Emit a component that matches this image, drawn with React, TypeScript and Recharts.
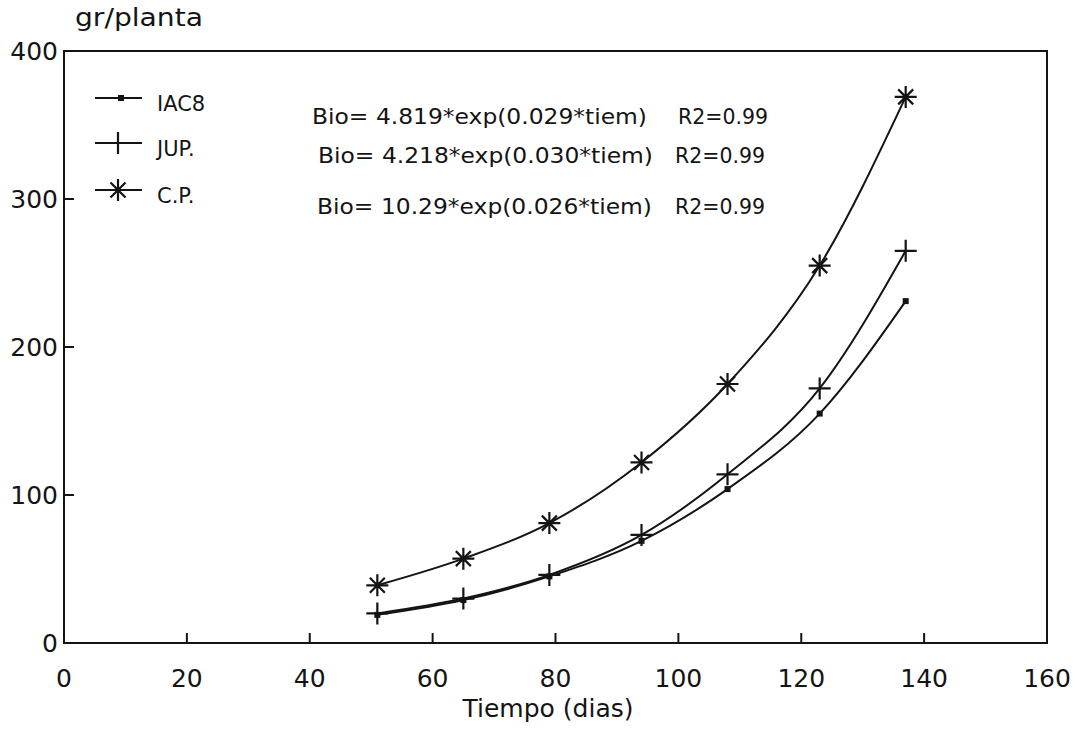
import { LineChart, Line, XAxis, YAxis, ReferenceArea, Legend } from 'recharts';

// days after sowing and biomass (g/plant)
const days = [51, 65, 79, 94, 108, 123, 137];
const iac8 = [19, 29, 45, 69, 104, 155, 231];
const jup = [20, 30, 46, 73, 114, 172, 265];
const cp = [39, 57, 81, 122, 175, 255, 369];

const xTicks = [0, 20, 40, 60, 80, 100, 120, 140, 160];
const yTicks = [0, 100, 200, 300, 400];

const seriesKeys = ['iac8', 'jup', 'cp'];
const seriesNames = ['IAC8', 'JUP.', 'C.P.'];
const equations = [
  'Bio= 4.819*exp(0.029*tiem)',
  'Bio= 4.218*exp(0.030*tiem)',
  'Bio= 10.29*exp(0.026*tiem)',
];
const r2Labels = ['R2=0.99', 'R2=0.99', 'R2=0.99'];

const INK = '#141414';
const FONT = '"DejaVu Sans", sans-serif';

const data = days.map((d, i) => ({ day: d, iac8: iac8[i], jup: jup[i], cp: cp[i] }));

function Square({ cx, cy }: { cx: number; cy: number }) {
  return <rect x={cx - 3} y={cy - 3} width={6} height={6} fill={INK} />;
}

function Plus({ cx, cy }: { cx: number; cy: number }) {
  return (
    <path
      d={`M${cx - 11},${cy}H${cx + 11}M${cx},${cy - 11}V${cy + 11}`}
      stroke={INK}
      strokeWidth={2.2}
      fill="none"
    />
  );
}

function Star({ cx, cy }: { cx: number; cy: number }) {
  const r = 11;
  const d = 7.5;
  return (
    <path
      d={`M${cx - r},${cy}H${cx + r}M${cx},${cy - r}V${cy + r}M${cx - d},${cy - d}L${cx + d},${cy + d}M${cx - d},${cy + d}L${cx + d},${cy - d}`}
      stroke={INK}
      strokeWidth={2.2}
      fill="none"
    />
  );
}

const markers: Record<string, (p: { cx: number; cy: number }) => JSX.Element> = {
  iac8: Square,
  jup: Plus,
  cp: Star,
};

const XTick = ({ x, y, payload }: any) => (
  <g>
    <line x1={x} y1={y} x2={x} y2={y - 10} stroke={INK} strokeWidth={2} />
    <text x={x} y={y + 44} textAnchor="middle" fontFamily={FONT} fontSize={25} fill={INK}>
      {payload.value}
    </text>
  </g>
);

const YTick = ({ x, y, payload }: any) => (
  <g>
    <line x1={x} y1={y} x2={x + 10} y2={y} stroke={INK} strokeWidth={2} />
    <text x={x - 6} y={y + 9} textAnchor="end" fontFamily={FONT} fontSize={25} fill={INK}>
      {payload.value}
    </text>
  </g>
);

const legendRows = [98, 143, 190];
const eqRows = [124, 163, 214];
const eqX = [312, 318, 317];
const r2X = [678, 675, 675];

function LegendBox() {
  return (
    <svg width={800} height={240} style={{ display: 'block' }}>
      {seriesKeys.map((k, i) => {
        const M = markers[k];
        const y = legendRows[i];
        return (
          <g key={k}>
            <line x1={95} y1={y} x2={142} y2={y} stroke={INK} strokeWidth={2} />
            <M cx={k === 'iac8' ? 121 : 118} cy={y} />
            <text x={157} y={y + 13} fontFamily={FONT} fontSize={21} fill={INK}>
              {seriesNames[i]}
            </text>
          </g>
        );
      })}
      {equations.map((eq, i) => (
        <g key={eq}>
          <text
            x={eqX[i]}
            y={eqRows[i]}
            fontFamily={FONT}
            fontSize={21}
            fill={INK}
            textLength={335}
            lengthAdjust="spacingAndGlyphs"
          >
            {eq}
          </text>
          <text
            x={r2X[i]}
            y={eqRows[i]}
            fontFamily={FONT}
            fontSize={21}
            fill={INK}
            textLength={90}
            lengthAdjust="spacingAndGlyphs"
          >
            {r2Labels[i]}
          </text>
        </g>
      ))}
    </svg>
  );
}

export default function App() {
  return (
    <div style={{ position: 'absolute', left: 0, top: 0, width: 1075, height: 731, background: '#fff' }}>
      <LineChart width={1075} height={731} data={data} margin={{ top: 51, right: 28, bottom: 28, left: 4 }}>
        <XAxis
          dataKey="day"
          type="number"
          domain={[0, 160]}
          ticks={xTicks}
          interval={0}
          axisLine={false}
          tickLine={false}
          tickSize={0}
          tickMargin={0}
          tick={<XTick />}
          height={60}
        />
        <YAxis
          type="number"
          domain={[0, 400]}
          ticks={yTicks}
          interval={0}
          axisLine={false}
          tickLine={false}
          tickSize={0}
          tickMargin={0}
          tick={<YTick />}
          width={60}
        />
        <ReferenceArea x1={0} x2={160} y1={0} y2={400} fill="none" stroke={INK} strokeWidth={2} />
        {seriesKeys.map((k, i) => {
          const M = markers[k];
          return (
            <Line
              key={k}
              dataKey={k}
              name={seriesNames[i]}
              type="monotone"
              stroke={INK}
              strokeWidth={2}
              isAnimationActive={false}
              dot={(p: any) => <M key={`${k}-${p.index}`} cx={p.cx} cy={p.cy} />}
              activeDot={false}
            />
          );
        })}
        <Legend
          layout="vertical"
          align="center"
          verticalAlign="middle"
          content={() => <LegendBox />}
          wrapperStyle={{ left: 0, top: 0, width: 800, height: 240 }}
        />
      </LineChart>
      <svg width={1075} height={731} style={{ position: 'absolute', left: 0, top: 0, pointerEvents: 'none' }}>
        <text x={75} y={26} fontFamily={FONT} fontSize={24} fill={INK} textLength={128} lengthAdjust="spacingAndGlyphs">
          gr/planta
        </text>
        <text x={548} y={717} textAnchor="middle" fontFamily={FONT} fontSize={25} fill={INK}>
          Tiempo (dias)
        </text>
      </svg>
    </div>
  );
}
